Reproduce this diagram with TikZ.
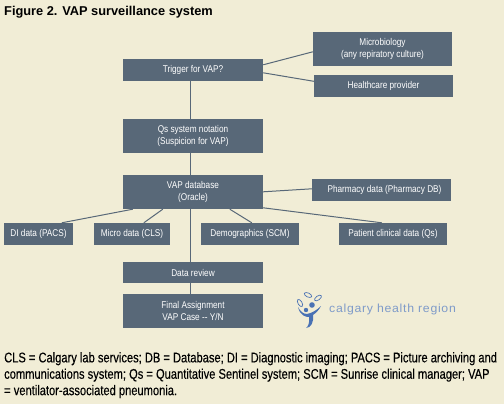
\documentclass[tikz,border=0pt]{standalone}
\usepackage{fontspec}
\setmainfont{Liberation Sans}
\newfontfamily\boxfont[FakeStretch=0.84]{Liberation Sans}
\newfontfamily\capfont[FakeStretch=0.795,FakeBold=0.25]{Liberation Sans}
\newfontfamily\logofont[FakeStretch=1.05,LetterSpace=6]{Liberation Sans}
\definecolor{paper}{HTML}{F1EDD6}
\definecolor{slate}{HTML}{586878}
\definecolor{logoblue}{HTML}{7F9BC9}
\definecolor{logodark}{HTML}{4A72B4}
\tikzset{
  fig/.style={x=1pt,y=-1pt},
  pbox/.style={fill=slate,text=white,inner sep=0pt,align=center,
    font=\boxfont\fontsize{9.8}{12}\selectfont},
  link/.style={draw=slate,line width=1pt},
  plain/.style={inner sep=0pt,anchor=west},
  leaf/.style={logodark,line width=0.7pt,fill=paper}
}
\newcommand{\pboxat}[6]{\node[pbox,minimum width=#4pt-#2pt,minimum height=#5pt-#3pt] (#1) at ({(#2+#4)/2},{(#3+#5)/2}) {#6};}
\begin{document}
\begin{tikzpicture}[fig]
\useasboundingbox (0,0) rectangle (504,404);
\fill[paper] (0,0) rectangle (504,404);
\pboxat{trigger}{123}{59}{263}{81}{Trigger for VAP?}
\pboxat{qs}{123}{119}{263}{153}{Qs system notation\\(Suspicion for VAP)}
\pboxat{db}{123}{175}{263}{209}{VAP database\\(Oracle)}
\pboxat{micro}{313}{32}{452}{66}{Microbiology\\(any repiratory culture)}
\pboxat{hcp}{314}{75}{453}{97}{Healthcare provider}
\pboxat{pharm}{312}{179}{451}{201}{\hspace{6pt}Pharmacy data (Pharmacy DB)}
\pboxat{di}{4}{223}{73}{245}{DI data (PACS)}
\pboxat{mdata}{94}{223}{170}{245}{Micro data (CLS)}
\pboxat{demo}{201}{223}{299}{245}{Demographics (SCM)}
\pboxat{patient}{339}{223}{447}{245}{Patient clinical data (Qs)}
\pboxat{review}{123}{262}{263}{283}{Data review}
\pboxat{final}{123}{294}{263}{328}{Final Assignment\\VAP Case -- Y/N}
\draw[link] ([xshift=67.5pt]trigger.south west) -- ([xshift=67.5pt]qs.north west);
\draw[link] ([xshift=67.5pt]qs.south west) -- ([xshift=67.5pt]db.north west);
\draw[link] ([xshift=67.5pt]db.south west) -- ([xshift=67.5pt]review.north west);
\draw[link] ([xshift=67.5pt]review.south west) -- ([xshift=67.5pt]final.north west);
\draw[link] ([yshift=-6pt]trigger.north east) -- ([yshift=-20pt]micro.north west);
\draw[link] ([yshift=-14pt]trigger.north east) -- ([yshift=-6.5pt]hcp.north west);
\draw[link] ([yshift=-17pt]db.north east) -- ([yshift=-10pt]pharm.north west);
\draw[link] ([xshift=10pt]db.south west) -- ([xshift=58pt]di.north west);
\draw[link] ([xshift=40pt]db.south west) -- ([xshift=50pt]mdata.north west);
\draw[link] ([xshift=107pt]db.south west) -- ([xshift=51pt]demo.north west);
\draw[link] ([yshift=-33pt]db.north east) -- ([xshift=43pt]patient.north west);
\node[plain,font=\bfseries\fontsize{12.8}{14}\selectfont] (title) at (4,12) {Figure 2. VAP surveillance system};
\node[plain,font=\capfont\fontsize{14}{16.4}\selectfont,align=left,anchor=north west] (caption) at (4,352)
 {CLS = Calgary lab services; DB = Database; DI = Diagnostic imaging; PACS = Picture archiving and\\communications system; Qs = Quantitative Sentinel system; SCM = Sunrise clinical manager; VAP\\= ventilator-associated pneumonia.};
\node[plain,text=logoblue,font=\logofont\fontsize{11.7}{14}\selectfont] (logotext) at (329,309) {calgary health region};
% logo figure
\draw[leaf,rotate around={-25:(308,295)}] (308,295) ellipse (4pt and 2pt);
\draw[leaf,rotate around={35:(318,298)}] (318,298) ellipse (4pt and 2pt);
\draw[leaf,rotate around={-60:(300,303)}] (300,303) ellipse (4pt and 2pt);
\fill[logodark] (312,305) circle (2.8pt);
\fill[logodark] (306,310) circle (2.2pt);
\fill[logodark] (298,307) .. controls (300,316) and (306,317) .. (309,317)
  .. controls (310,322) and (308,327) .. (306,328) .. controls (311,328) and (314,322) .. (313,315)
  .. controls (316,313) and (319,310) .. (321,306) .. controls (317,310) and (312,313) .. (307,314)
  .. controls (303,314) and (300,311) .. (298,307);
\end{tikzpicture}
\end{document}
